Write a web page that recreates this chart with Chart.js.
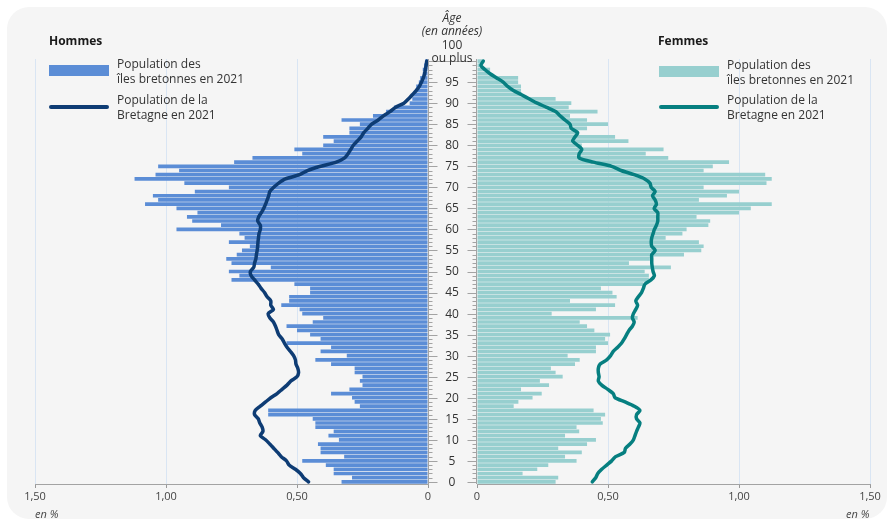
<!DOCTYPE html>
<html lang="fr">
<head>
<meta charset="UTF-8">
<title>Pyramide des âges</title>
<script src="https://cdn.jsdelivr.net/npm/chart.js@4.4.0/dist/chart.umd.min.js"></script>
<style>
  body { margin: 0; background: #fff; font-family: "Open Sans", sans-serif; color: #333; }
  #wrap { position: relative; width: 891px; height: 520px; overflow: hidden; }
  #panel { position: absolute; left: 7px; top: 7px; width: 880px; height: 512px; background: #f5f5f5; border-radius: 22px; }
  canvas { position: absolute; top: 0; }
  .txt { position: absolute; font-size: 12px; line-height: 15px; color: #333; white-space: nowrap; }
  .title { font-weight: bold; color: #1a1a1a; }
  .box { position: absolute; width: 60px; height: 11px; }
  .ln { position: absolute; width: 60px; height: 4px; border-radius: 2px; }
  .age { position: absolute; width: 80px; left: 412px; text-align: center; font-size: 12px; line-height: 13px; color: #333; }
  .unit { position: absolute; top: 506px; font-size: 11px; font-style: italic; color: #444; }
</style>
</head>
<body>
<div id="wrap">
  <div id="panel"></div>
  <canvas id="left" width="440" height="520" style="left:0"></canvas>
  <canvas id="right" width="451" height="520" style="left:440px"></canvas>

  <div class="txt title" style="left:49px;top:33px">Hommes</div>
  <div class="box" style="left:49px;top:65px;background:#5b8dd6"></div>
  <div class="txt" style="left:117px;top:56px">Population des<br>îles bretonnes en 2021</div>
  <div class="ln" style="left:49px;top:105px;background:#0e3c74"></div>
  <div class="txt" style="left:117px;top:92px">Population de la<br>Bretagne en 2021</div>

  <div class="txt title" style="left:658px;top:33px">Femmes</div>
  <div class="box" style="left:659px;top:66px;background:#97cfcf"></div>
  <div class="txt" style="left:727px;top:57px">Population des<br>îles bretonnes en 2021</div>
  <div class="ln" style="left:659px;top:105px;background:#067f80"></div>
  <div class="txt" style="left:727px;top:92px">Population de la<br>Bretagne en 2021</div>

  <div class="age" style="top:11px;font-style:italic">Âge<br>(en années)</div>
  <div class="age" style="top:38px">100<br>ou plus</div>

  <div class="unit" style="left:35px">en %</div>
  <div class="unit" style="left:846px">en %</div>
</div>

<script>
// ages 0 .. 100 (100 = 100 ou plus)
const ages = [];
for (let a = 0; a <= 100; a++) ages.push(a);

const xTicks = [0, 0.5, 1, 1.5];

// hommes, iles bretonnes 2021 (en %), age 0 -> 100
const hommesIles = [
  0.33, 0.29, 0.36, 0.36, 0.39, 0.48, 0.32, 0.41, 0.41, 0.42,
  0.34, 0.38, 0.36, 0.43, 0.43, 0.44, 0.61, 0.61, 0.26, 0.28,
  0.29, 0.37, 0.30, 0.25, 0.26, 0.25, 0.28, 0.28, 0.37, 0.43,
  0.31, 0.41, 0.37, 0.54, 0.41, 0.45, 0.50, 0.54, 0.44, 0.40,
  0.48, 0.49, 0.56, 0.53, 0.53, 0.45, 0.45, 0.51, 0.75, 0.72,
  0.76, 0.60, 0.75, 0.77, 0.73, 0.71, 0.68, 0.76, 0.70, 0.72,
  0.96, 0.79, 0.90, 0.92, 0.88, 0.96, 1.08, 1.03, 1.05, 0.89,
  0.76, 0.93, 1.12, 1.04, 0.95, 1.03, 0.74, 0.67, 0.48, 0.51,
  0.40, 0.36, 0.40, 0.30, 0.30, 0.26, 0.33, 0.21, 0.16, 0.13,
  0.07, 0.06, 0.06, 0.05, 0.045, 0.035, 0.03, 0.02, 0.02, 0.015,
  0.01
];

// hommes, Bretagne 2021 (en %)
const hommesBretagne = [
  0.456, 0.475, 0.487, 0.506, 0.53, 0.54, 0.56, 0.574, 0.589, 0.604,
  0.62, 0.64, 0.63, 0.633, 0.642, 0.648, 0.662, 0.659, 0.64, 0.62,
  0.60, 0.576, 0.557, 0.538, 0.523, 0.50, 0.494, 0.497, 0.504, 0.506,
  0.513, 0.525, 0.538, 0.548, 0.557, 0.57, 0.576, 0.582, 0.59, 0.604,
  0.61, 0.59, 0.60, 0.60, 0.614, 0.624, 0.637, 0.648, 0.662, 0.675,
  0.678, 0.665, 0.662, 0.657, 0.655, 0.652, 0.65, 0.649, 0.647, 0.645,
  0.64, 0.64, 0.65, 0.646, 0.636, 0.627, 0.62, 0.614, 0.608, 0.604,
  0.589, 0.57, 0.544, 0.49, 0.46, 0.41, 0.35, 0.318, 0.305, 0.295,
  0.285, 0.27, 0.255, 0.245, 0.23, 0.215, 0.19, 0.17, 0.145, 0.125,
  0.092, 0.075, 0.06, 0.045, 0.033, 0.025, 0.018, 0.013, 0.01, 0.007,
  0.005
];

// femmes, iles bretonnes 2021 (en %)
const femmesIles = [
  0.30, 0.31, 0.174, 0.23, 0.272, 0.38, 0.336, 0.40, 0.31, 0.42,
  0.454, 0.336, 0.39, 0.38, 0.48, 0.473, 0.489, 0.445, 0.14, 0.158,
  0.212, 0.247, 0.168, 0.275, 0.24, 0.327, 0.30, 0.282, 0.374, 0.392,
  0.346, 0.454, 0.454, 0.50, 0.489, 0.508, 0.448, 0.42, 0.392, 0.613,
  0.285, 0.454, 0.527, 0.355, 0.533, 0.517, 0.473, 0.635, 0.656, 0.656,
  0.64, 0.74, 0.58, 0.66, 0.79, 0.856, 0.865, 0.847, 0.72, 0.784,
  0.80, 0.883, 0.89, 0.838, 1.00, 1.045, 1.125, 0.847, 0.954, 1.00,
  0.865, 1.105, 1.125, 1.10, 0.865, 0.90, 0.962, 0.73, 0.644, 0.712,
  0.40, 0.578, 0.527, 0.39, 0.42, 0.50, 0.42, 0.355, 0.46, 0.35,
  0.36, 0.30, 0.17, 0.168, 0.168, 0.157, 0.157, 0.05, 0.05, 0.02,
  0.02
];

// femmes, Bretagne 2021 (en %)
const femmesBretagne = [
  0.44, 0.453, 0.461, 0.476, 0.495, 0.514, 0.529, 0.562, 0.567, 0.584,
  0.597, 0.603, 0.609, 0.616, 0.622, 0.609, 0.609, 0.622, 0.60, 0.565,
  0.527, 0.52, 0.499, 0.476, 0.463, 0.466, 0.463, 0.463, 0.47, 0.495,
  0.51, 0.52, 0.537, 0.552, 0.562, 0.571, 0.58, 0.593, 0.60, 0.593,
  0.597, 0.606, 0.613, 0.606, 0.616, 0.628, 0.635, 0.641, 0.664, 0.677,
  0.672, 0.669, 0.667, 0.667, 0.667, 0.68, 0.667, 0.665, 0.667, 0.672,
  0.677, 0.685, 0.69, 0.69, 0.69, 0.676, 0.685, 0.68, 0.67, 0.68,
  0.665, 0.66, 0.64, 0.60, 0.55, 0.514, 0.444, 0.39, 0.39, 0.40,
  0.384, 0.365, 0.374, 0.384, 0.36, 0.355, 0.336, 0.317, 0.30, 0.266,
  0.23, 0.20, 0.17, 0.139, 0.117, 0.10, 0.075, 0.05, 0.03, 0.015,
  0.024
];

// petites graduations + libellés d'âge au centre
const ageAxis = {
  id: 'ageAxis',
  afterDraw(chart, args, opts) {
    const { ctx, chartArea, scales } = chart;
    const y = scales.y;
    const left = opts.side === 'left';
    const x0 = left ? chartArea.right + 0.5 : chartArea.left - 0.5;
    const dir = left ? 1 : -1;
    ctx.save();
    ctx.strokeStyle = '#a3a3a3';
    ctx.lineWidth = 1;
    ctx.beginPath();
    ctx.moveTo(x0, chartArea.top);
    ctx.lineTo(x0, chartArea.bottom);
    ages.forEach((a, i) => {
      const py = Math.round(y.getPixelForValue(i)) + 0.5;
      let len = a % 5 === 0 ? 9 : 4;
      if (a === 100) len = left ? 12 : 37;
      ctx.moveTo(x0, py);
      ctx.lineTo(x0 + dir * len, py);
    });
    ctx.stroke();
    if (opts.labels) {
      ctx.fillStyle = '#333';
      ctx.font = '12px "Open Sans"';
      ctx.textAlign = 'center';
      ctx.textBaseline = 'middle';
      ages.forEach((a, i) => {
        if (a % 5 === 0 && a < 100) {
          ctx.fillText(String(a), chartArea.left - 25, y.getPixelForValue(i) + 0.5);
        }
      });
    }
    ctx.restore();
  }
};

function opts(side) {
  return {
    responsive: false,
    animation: false,
    indexAxis: 'y',
    layout: { padding: side === 'left'
      ? { top: 59, left: 35, right: 12, bottom: 0 }
      : { top: 59, left: 37, right: 21, bottom: 0 } },
    plugins: {
      legend: { display: false },
      tooltip: { enabled: false },
      ageAxis: { side: side, labels: side === 'right' }
    },
    scales: {
      y: {
        type: 'category',
        reverse: true,
        display: false,
        offset: true
      },
      x: {
        type: 'linear',
        min: 0,
        max: 1.5,
        reverse: side === 'left',
        afterFit(s) { s.height = 36; },
        afterBuildTicks(s) { s.ticks = xTicks.map(v => ({ value: v })); },
        grid: {
          color: c => c.tick && c.tick.value === 0 ? 'rgba(0,0,0,0)' : '#d9e5f3',
          tickColor: '#999',
          tickLength: 4,
          drawTicks: true
        },
        border: { display: true, color: '#a3a3a3' },
        ticks: {
          padding: 2,
          color: '#444',
          font: { family: 'Open Sans', size: 11 },
          callback: v => v === 0 ? '0' : v.toFixed(2).replace('.', ',')
        }
      }
    }
  };
}

function datasets(bars, line, barColor, lineColor) {
  return [
    {
      type: 'line',
      data: line,
      borderColor: lineColor,
      borderWidth: 3.5,
      pointRadius: 0,
      tension: 0.25,
      borderCapStyle: 'round',
      borderJoinStyle: 'round',
      order: 0
    },
    {
      type: 'bar',
      data: bars,
      backgroundColor: barColor,
      barPercentage: 1,
      categoryPercentage: 0.88,
      order: 1
    }
  ];
}

new Chart(document.getElementById('left'), {
  type: 'bar',
  data: { labels: ages, datasets: datasets(hommesIles, hommesBretagne, '#5b8dd6', '#0e3c74') },
  options: opts('left'),
  plugins: [ageAxis]
});

new Chart(document.getElementById('right'), {
  type: 'bar',
  data: { labels: ages, datasets: datasets(femmesIles, femmesBretagne, '#97cfcf', '#067f80') },
  options: opts('right'),
  plugins: [ageAxis]
});
</script>
</body>
</html>
